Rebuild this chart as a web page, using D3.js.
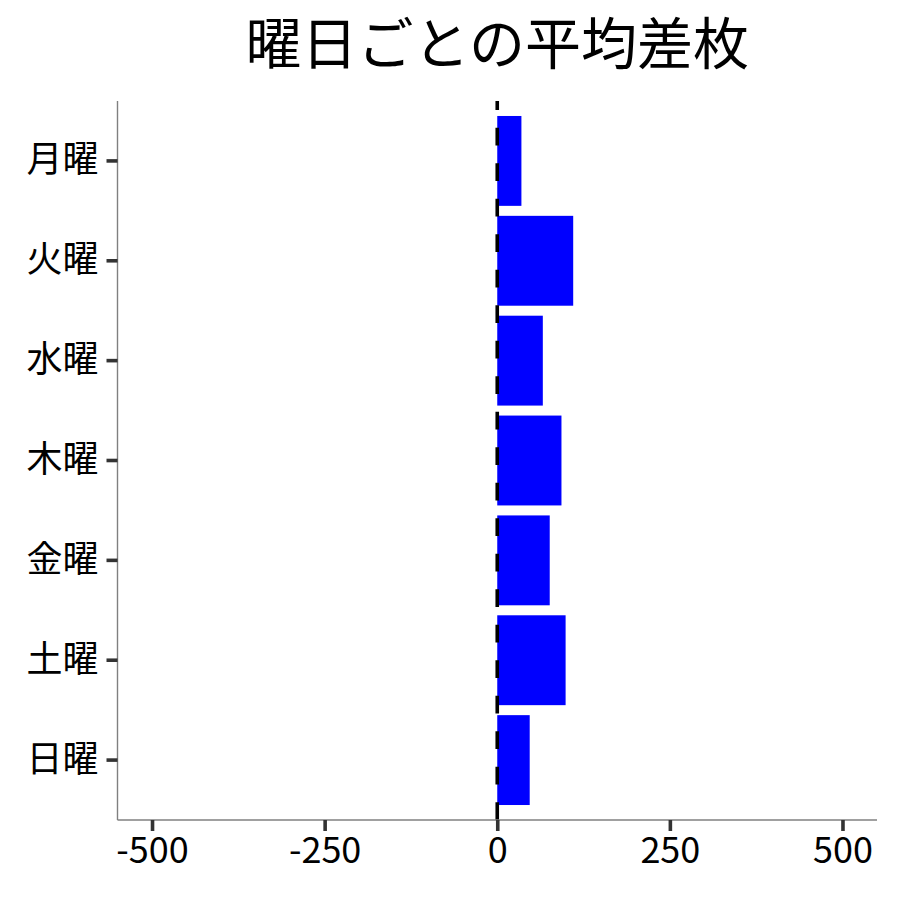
<!DOCTYPE html>
<html lang="ja">
<head>
    <meta charset="UTF-8">
    <title>曜日ごとの平均差枚</title>
    <style>
      body { margin: 0; background: #fff; }
      text { font-family: "Noto Sans CJK JP", "Noto Sans", sans-serif; }
    </style>
</head>
<body>
  <script src="https://cdn.jsdelivr.net/npm/d3@7"></script>
  <div id="barchart"></div>
  <script>

// data
const days = ["月曜", "火曜", "水曜", "木曜", "金曜", "土曜", "日曜"];
const avgDiff = [35, 110, 66, 93, 76, 99, 47];
const xTicks = [-500, -250, 0, 250, 500];
const titleText = "曜日ごとの平均差枚";

// set the dimensions and margins of the graph
const margin = {top: 101, right: 23, bottom: 80, left: 117.5},
    width = 900 - margin.left - margin.right,
    height = 900 - margin.top - margin.bottom;

const svg = d3.select("#barchart")
  .append("svg")
    .attr("width", 900)
    .attr("height", 900);

const g = svg.append("g")
    .attr("transform", `translate(${margin.left}, ${margin.top})`);

// X axis
const x = d3.scaleLinear()
  .domain([-550, 550])
  .range([0, width]);

// Y axis (bands, ggplot-like padding)
const y = d3.scaleBand()
  .domain(days)
  .range([0, height])
  .paddingInner(0.1)
  .paddingOuter(0.15);

// bars
g.selectAll("rect.bar")
  .data(days)
  .join("rect")
    .attr("class", "bar")
    .attr("x", d => x(Math.min(0, avgDiff[days.indexOf(d)])))
    .attr("y", d => y(d))
    .attr("width", d => Math.abs(x(avgDiff[days.indexOf(d)]) - x(0)))
    .attr("height", y.bandwidth())
    .style("fill", "#0000ff");

// dashed zero line, drawn from the bottom up
g.append("line")
  .attr("x1", x(0)).attr("x2", x(0))
  .attr("y1", height).attr("y2", 0)
  .style("stroke", "#000")
  .style("stroke-width", 3.6)
  .style("stroke-dasharray", "17.75,17.75");

// axes
const xAxis = g.append("g")
  .attr("transform", `translate(0, ${height})`)
  .call(d3.axisBottom(x).tickValues(xTicks).tickSize(11).tickPadding(6).tickFormat(d => String(d)));

const yAxis = g.append("g")
  .call(d3.axisLeft(y).tickSize(11).tickPadding(8));

[xAxis, yAxis].forEach(a => {
  a.select(".domain")
    .attr("stroke", "#808080")
    .attr("stroke-width", 1.4);
  a.selectAll(".tick line")
    .attr("stroke", "#333333")
    .attr("stroke-width", 3.6);
  a.selectAll(".tick text")
    .attr("fill", "#000")
    .style("font-size", "36px")
    .style("font-family", "'Noto Sans CJK JP', sans-serif");
});

// redraw domain lines without the outer ticks
xAxis.select(".domain").attr("d", `M0,0H${width}`);
yAxis.select(".domain").attr("d", `M0,0V${height}`);

// title
svg.append("text")
  .attr("x", margin.left + width / 2)
  .attr("y", 64)
  .attr("text-anchor", "middle")
  .style("font-size", "56px")
  .style("fill", "#000")
  .text(titleText);

  </script>
</body>
</html>
